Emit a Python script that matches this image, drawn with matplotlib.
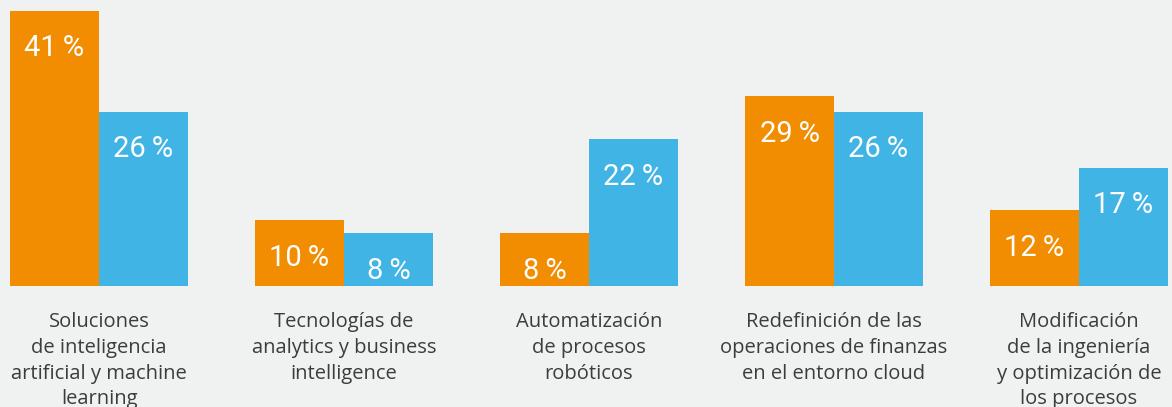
import numpy as np
import matplotlib.pyplot as plt

categories = [
    "Soluciones\nde inteligencia\nartificial y machine\nlearning",
    "Tecnologías de\nanalytics y business\nintelligence",
    "Automatización\nde procesos\nrobóticos",
    "Redefinición de las\noperaciones de finanzas\nen el entorno cloud",
    "Modificación\nde la ingeniería\ny optimización de\nlos procesos",
]
# bar heights as drawn in the picture, printed labels as shown
serie_naranja = [41, 9.8, 7.9, 28.3, 11.3]
serie_azul = [26, 7.9, 21.9, 26, 17.6]
etiquetas_naranja = ["41", "10", "8", "29", "12"]
etiquetas_azul = ["26", "8", "22", "26", "17"]

bg = "#F0F1F1"
naranja = "#F28C00"
azul = "#41B4E6"

fig = plt.figure(figsize=(11.72, 4.07), dpi=100, facecolor=bg)
ax = fig.add_axes([0, 121 / 407, 1, 286 / 407])
ax.set_facecolor(bg)

x = np.arange(len(categories))
w = 89 / 245

b1 = ax.bar(x - w / 2, serie_naranja, w, color=naranja)
b2 = ax.bar(x + w / 2, serie_azul, w, color=azul)

for bars, labels in ((b1, etiquetas_naranja), (b2, etiquetas_azul)):
    for rect, lab in zip(bars, labels):
        v = rect.get_height()
        ax.annotate(lab + "\u2009%", (rect.get_x() + rect.get_width() / 2, v),
                    xytext=(0, -27), textcoords="offset points",
                    ha="center", va="center", color="white",
                    fontsize=21, family=["Roboto", "DejaVu Sans"])

ax.set_xlim(-99 / 245, (1172 - 99) / 245)
ax.set_ylim(0, 286 / (275 / 41))
ax.set_xticks(x)
ax.set_xticklabels(categories, fontsize=14.5, color="#3C3C3C", family="Open Sans",
                   linespacing=1.38, va="top")
ax.tick_params(axis="x", length=0, pad=19)
ax.set_yticks([])
for s in ax.spines.values():
    s.set_visible(False)

fig.savefig("out.png", dpi=100, facecolor=bg)
